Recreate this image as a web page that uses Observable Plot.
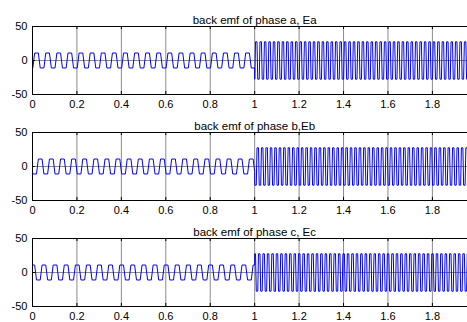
<!DOCTYPE html>
<html><head><meta charset="utf-8">
<script src="https://cdn.jsdelivr.net/npm/d3@7"></script>
<script src="https://cdn.jsdelivr.net/npm/@observablehq/plot@0.6"></script>
<style>
html,body{margin:0;padding:0;background:#fff;overflow:hidden}
#chart{position:relative;width:467px;height:322px;overflow:hidden}
#chart svg{position:absolute;left:0;overflow:visible}
</style></head><body><div id="chart"></div>
<script>
// ---- data ----
const phaseTitles = ["back emf of phase a, Ea", "back emf of phase b,Eb", "back emf of phase c, Ec"];
const phaseOffsetDeg = [-40, -160, 80];          // electrical angle of each phase at t = 0
const segmentStart = [0, 1];                     // s
const segmentEnd = [1, 1.958];                   // s
const segmentFreqHz = [20, 50];                  // electrical frequency in each speed segment
const segmentAmplitude = [11, 27.5];             // flat-top height of the trapezoid
const shapeAngleDeg = [30, 150, 210, 330];       // corners of one trapezoid period
const shapeValue = [1, 1, -1, -1];
const xTicks = [0, 0.2, 0.4, 0.6, 0.8, 1, 1.2, 1.4, 1.6, 1.8];
const xTickLabels = ["0", "0.2", "0.4", "0.6", "0.8", "1", "1.2", "1.4", "1.6", "1.8"];
const yTicks = [-50, 0, 50];
const yTickLabels = ["-50", "0", "50"];
const xDomain = [0, 1.958];
const yDomain = [-50, 50];

function shapeAt(deg) {
  const a = ((deg % 360) + 360) % 360;
  const A = [shapeAngleDeg[3] - 360, ...shapeAngleDeg, shapeAngleDeg[0] + 360];
  const V = [shapeValue[3], ...shapeValue, shapeValue[0]];
  for (let i = 0; i < A.length - 1; i++) {
    if (a >= A[i] && a <= A[i + 1]) return V[i] + (V[i + 1] - V[i]) * (a - A[i]) / (A[i + 1] - A[i]);
  }
  return 0;
}

function phasePoints(p) {
  const pts = [];
  let theta = phaseOffsetDeg[p];
  for (let s = 0; s < segmentStart.length; s++) {
    const ts = segmentStart[s], te = segmentEnd[s], f = segmentFreqHz[s], amp = segmentAmplitude[s];
    const thetaEnd = theta + 360 * f * (te - ts);
    pts.push({t: ts, v: amp * shapeAt(theta)});
    const corners = [];
    for (let k = Math.floor(theta / 360) - 1; k <= Math.ceil(thetaEnd / 360) + 1; k++) {
      for (const c of shapeAngleDeg) {
        const th = 360 * k + c;
        if (th > theta && th < thetaEnd) corners.push(th);
      }
    }
    corners.sort((a, b) => a - b);
    for (const th of corners) pts.push({t: ts + (th - theta) / (360 * f), v: amp * shapeAt(th)});
    pts.push({t: te, v: amp * shapeAt(thetaEnd)});
    theta = thetaEnd;
  }
  return pts;
}

const container = document.getElementById("chart");
const panelTop = [0, 106, 212];
const font = "'Liberation Sans', Arial, Helvetica, sans-serif";

for (let p = 0; p < 3; p++) {
  const pts = phasePoints(p);
  const inner = xTicks.filter(d => d > xDomain[0]);
  const chart = Plot.plot({
    width: 467, height: 110,
    marginTop: 26, marginBottom: 16, marginLeft: 32, marginRight: 0,
    x: {domain: xDomain, label: null},
    y: {domain: yDomain, label: null},
    style: {fontFamily: font, fontSize: "11px", color: "#000", background: "transparent", overflow: "visible"},
    marks: [
      Plot.ruleX(inner, {stroke: "#8c8c8c", strokeWidth: 1}),
      Plot.ruleY([0], {stroke: "#8c8c8c", strokeWidth: 1}),
      Plot.line(pts, {x: "t", y: "v", stroke: "#0000ff", strokeWidth: 1}),
      Plot.ruleY(yDomain, {stroke: "#000", strokeWidth: 1}),
      Plot.ruleX([xDomain[0]], {stroke: "#000", strokeWidth: 1}),
      Plot.ruleX(inner, {y1: () => yDomain[0], y2: () => yDomain[0] + 4.5, stroke: "#000"}),
      Plot.ruleX(inner, {y1: () => yDomain[1], y2: () => yDomain[1] - 4.5, stroke: "#000"}),
      Plot.ruleY([0], {x1: () => xDomain[0], x2: () => xDomain[0] + 0.014, stroke: "#000"}),
      Plot.axisX({ticks: xTicks, tickFormat: d => xTickLabels[xTicks.indexOf(d)], tickSize: 0, tickPadding: 6, fontSize: 11, label: null}),
      Plot.axisY({ticks: yTicks, tickFormat: d => yTickLabels[yTicks.indexOf(d)], tickSize: 0, tickPadding: 5, fontSize: 11, label: null}),
      Plot.text([{x: 1, label: phaseTitles[p]}], {x: "x", text: "label", frameAnchor: "top", dy: -11, fontSize: 11.5, fill: "#000"})
    ]
  });
  chart.style.top = panelTop[p] + "px";
  container.appendChild(chart);
}
</script>
</body></html>
